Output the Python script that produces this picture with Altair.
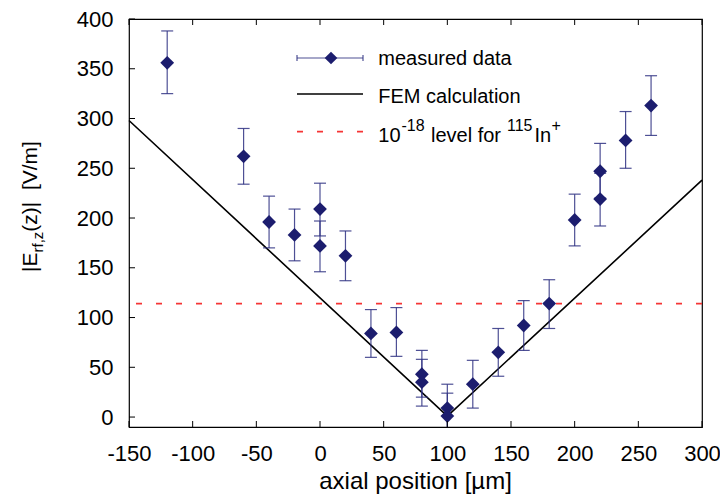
import altair as alt
import pandas as pd

# ---------------- data ----------------
pos = [-120, -60, -40, -20, 0, 0, 20, 40, 60, 80, 80, 100, 100, 120, 140, 160, 180, 200, 220, 220, 240, 260]
val = [356, 262, 196, 183, 209, 172, 162, 84, 85, 43, 35, 9, 1, 33, 65, 92, 114, 198, 247, 219, 278, 313]
err_lo = [325, 234, 170, 157, 182, 146, 137, 60, 61, 20, 11, -14, -23, 9, 41, 67, 89, 172, 220, 192, 250, 283]
err_hi = [388, 290, 222, 209, 235, 197, 187, 108, 110, 67, 58, 33, 24, 57, 89, 117, 138, 224, 275, 245, 307, 343]

fem_x = [-150, 100, 300]
fem_y = [298, 1, 238]

level_y = [114]

x_ticks = [-150, -100, -50, 0, 50, 100, 150, 200, 250, 300]
y_ticks = [0, 50, 100, 150, 200, 250, 300, 350, 400]

# ---------------- style ----------------
W, H = 573, 408
FONT = "Liberation Sans"
NAVY = "#1c1d6e"
ERR = "#2f3182"
RED = "#f53535"

xs = alt.Scale(domain=[-150, 300], nice=False, zero=False)
ys = alt.Scale(domain=[-10, 400], nice=False, zero=False)
XAX = alt.Axis(values=x_ticks, title=None, labelPadding=16, labelExpr="'' + datum.value",
               labelOverlap=False, labelFlush=False)
YAX = alt.Axis(values=y_ticks, title=None, labelPadding=16, labelExpr="'' + datum.value",
               labelOverlap=False, labelFlush=False)


def X(f):
    return alt.X(f, scale=xs, axis=XAX, title=None)


def Y(f):
    return alt.Y(f, scale=ys, axis=YAX, title=None)


df = pd.DataFrame({"pos": pos, "val": val, "lo": err_lo, "hi": err_hi})
fem = pd.DataFrame({"fx": fem_x, "fy": fem_y})
lvl = pd.DataFrame({"ly": level_y})
xt = pd.DataFrame({"t": x_ticks})
yt = pd.DataFrame({"t": y_ticks})
one = pd.DataFrame({"k": [0]})

fem_line = alt.Chart(fem).mark_line(color="black", strokeWidth=1.6).encode(
    x=X("fx:Q"), y=Y("fy:Q"))

level_rule = alt.Chart(lvl).mark_rule(color=RED, strokeWidth=1.8, strokeDash=[6, 14]).encode(
    y=Y("ly:Q"))

err_rules = alt.Chart(df).mark_rule(color=ERR, strokeWidth=1.2, opacity=0.85, clip=True).encode(
    x=X("pos:Q"), y=Y("lo:Q"), y2="hi:Q")

cap_lo = alt.Chart(df).mark_tick(color=ERR, orient="horizontal", size=12, thickness=1.2,
                                 opacity=0.85, clip=True).encode(x=X("pos:Q"), y=Y("lo:Q"))
cap_hi = alt.Chart(df).mark_tick(color=ERR, orient="horizontal", size=12, thickness=1.2,
                                 opacity=0.85, clip=True).encode(x=X("pos:Q"), y=Y("hi:Q"))

diamonds = alt.Chart(df).mark_point(shape="diamond", filled=True, size=190, color=NAVY,
                                    opacity=1, strokeWidth=0).encode(x=X("pos:Q"), y=Y("val:Q"))

# inward ticks (bottom, top, left)
tick_b = alt.Chart(xt).mark_rule(color="black", strokeWidth=1).encode(
    x=X("t:Q"), y=alt.value(H), y2=alt.value(H - 6))
tick_t = alt.Chart(xt).mark_rule(color="black", strokeWidth=1).encode(
    x=X("t:Q"), y=alt.value(0), y2=alt.value(6))
tick_l = alt.Chart(yt).mark_rule(color="black", strokeWidth=1).encode(
    y=Y("t:Q"), x=alt.value(0), x2=alt.value(6))


def txt(s, x, y, size, angle=0, align="left", color="black"):
    kw = dict(align=align, baseline="alphabetic", font=FONT, fontSize=size, color=color)
    if angle:
        kw["angle"] = angle
    return alt.Chart(one).mark_text(**kw).encode(
        x=alt.value(x), y=alt.value(y), text=alt.value(s))


# legend
LX1, LX2 = 168, 234
leg = [
    alt.Chart(one).mark_rule(color=ERR, strokeWidth=1.2, opacity=0.85).encode(
        x=alt.value(LX1), x2=alt.value(LX2), y=alt.value(39)),
    alt.Chart(one).mark_rule(color=ERR, strokeWidth=1.2, opacity=0.85).encode(
        x=alt.value(LX1), y=alt.value(36), y2=alt.value(42)),
    alt.Chart(one).mark_rule(color=ERR, strokeWidth=1.2, opacity=0.85).encode(
        x=alt.value(LX2), y=alt.value(36), y2=alt.value(42)),
    alt.Chart(one).mark_point(shape="diamond", filled=True, size=160, color=NAVY,
                              opacity=1, strokeWidth=0).encode(
        x=alt.value(202), y=alt.value(39)),
    alt.Chart(one).mark_rule(color="black", strokeWidth=1.6).encode(
        x=alt.value(LX1), x2=alt.value(LX2), y=alt.value(75)),
    alt.Chart(one).mark_rule(color=RED, strokeWidth=1.8, strokeDash=[6, 14]).encode(
        x=alt.value(LX1), x2=alt.value(LX2), y=alt.value(112.7)),
    txt("measured data", 249.3, 46, 20),
    txt("FEM calculation", 249.3, 84.3, 20),
    txt("10", 249.3, 122.7, 20),
    txt("-18", 272.5, 111.5, 16),
    txt("level for", 302, 122.7, 20),
    txt("115", 378, 111.5, 16),
    txt("In", 405.5, 122.7, 20),
    txt("+", 422.5, 111.5, 16),
]

# axis titles
titles = [
    txt("axial position [\u00b5m]", W / 2, 470, 24, align="center"),
    txt("|E", -92, 253, 21, angle=270),
    txt("rf,z", -86, 233.5, 15, angle=270),
    txt("(z)|", -92, 212.7, 21, angle=270),
    txt("[V/m]", -92, 171.1, 21, angle=270),
]

chart = alt.layer(
    fem_line, level_rule, err_rules, cap_lo, cap_hi, diamonds,
    tick_b, tick_t, tick_l, *leg, *titles
).properties(
    width=W, height=H,
    padding={"left": 121, "top": 11, "right": 18, "bottom": 67},
    autosize=alt.AutoSizeParams(type="none"),
    background="white",
).configure_axis(
    labelFont=FONT, labelFontSize=22, labelColor="black",
    ticks=False, domain=False, grid=False,
).configure_view(stroke="black", strokeWidth=1.2)

chart.save("out.html", embed_options={"renderer": "svg", "actions": False})
